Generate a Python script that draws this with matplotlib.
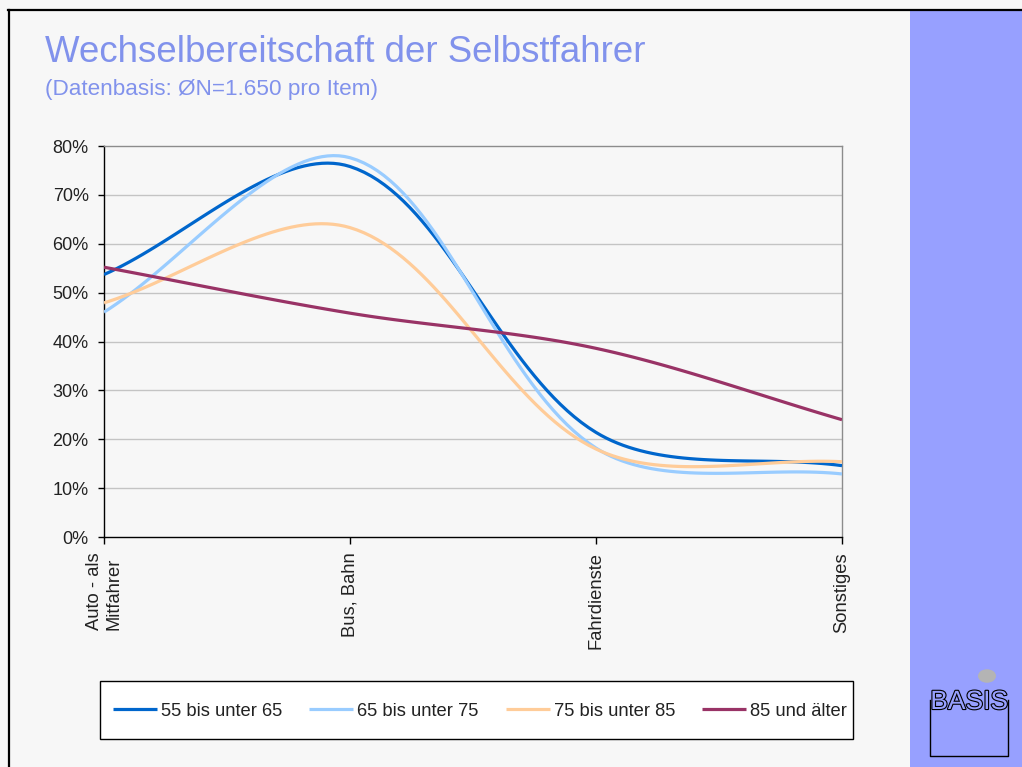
import numpy as np
import matplotlib
matplotlib.use("Agg")
from matplotlib import pyplot as plt
from matplotlib.lines import Line2D
from matplotlib.patches import Rectangle, Circle
import matplotlib.patheffects as pe

plt.rcParams['font.family'] = ['Liberation Sans', 'DejaVu Sans']

# Daten
kategorien = ["Auto - als\nMitfahrer", "Bus, Bahn", "Fahrdienste", "Sonstiges"]
serien = ["55 bis unter 65", "65 bis unter 75", "75 bis unter 85", "85 und älter"]
werte_55 = [53.7, 75.8, 21.4, 14.6]
werte_65 = [46.0, 77.6, 18.2, 12.9]
werte_75 = [47.9, 63.3, 18.0, 15.4]
werte_85 = [55.2, 45.8, 38.6, 24.0]
farben = ["#0066cc", "#99ccff", "#ffcc99", "#993366"]

titel = "Wechselbereitschaft der Selbstfahrer"
untertitel = "(Datenbasis: ØN=1.650 pro Item)"
titel_farbe = "#8192ec"
hintergrund = "#f7f7f7"
panel_farbe = "#97a0ff"


# Glättung wie in Excel (Bezier, Tangente nach Sehnenlänge gewichtet)
def glaetten(px, n=40):
    pts = np.asarray(px, dtype=float)
    m = len(pts)
    out = [pts[0]]
    for i in range(m - 1):
        p0 = pts[i - 1] if i > 0 else pts[i]
        p1 = pts[i]
        p2 = pts[i + 1]
        p3 = pts[i + 2] if i + 2 < m else pts[i + 1]
        d01 = np.linalg.norm(p1 - p0)
        d12 = np.linalg.norm(p2 - p1)
        d23 = np.linalg.norm(p3 - p2)
        c1 = p1 + (p2 - p0) * (d12 / (d01 + d12)) / 3.0
        c2 = p2 - (p3 - p1) * (d12 / (d12 + d23)) / 3.0
        t = np.linspace(0, 1, n)[1:, None]
        seg = ((1 - t) ** 3) * p1 + 3 * ((1 - t) ** 2) * t * c1 \
            + 3 * (1 - t) * t ** 2 * c2 + t ** 3 * p2
        out.extend(seg)
    return np.array(out)


fig = plt.figure(figsize=(10.22, 7.67), dpi=100)
fig.patch.set_facecolor(hintergrund)

# blauer Streifen rechts + Rahmen
fig.add_artist(Rectangle((910 / 1022, 0), 112 / 1022, 1 - 11 / 767,
                         transform=fig.transFigure, facecolor=panel_farbe,
                         edgecolor='none', zorder=0))
fig.add_artist(Line2D([8 / 1022, 1], [1 - 9.5 / 767, 1 - 9.5 / 767],
                      transform=fig.transFigure, color='black', lw=1.6))
fig.add_artist(Line2D([8.5 / 1022, 8.5 / 1022], [0, 1 - 9.5 / 767],
                      transform=fig.transFigure, color='black', lw=1.6))

# Titel
fig.text(45 / 1022, 1 - 62 / 767, titel, fontsize=26.4, color=titel_farbe,
         va='baseline', ha='left')
fig.text(45 / 1022, 1 - 95 / 767, untertitel, fontsize=16.2, color=titel_farbe,
         va='baseline', ha='left')

ax = fig.add_axes([104 / 1022, 1 - 537 / 767, 738 / 1022, 391 / 767])
ax.set_facecolor(hintergrund)
ax.set_xlim(0, len(kategorien) - 1)
ax.set_ylim(0, 80)

x = np.arange(len(kategorien))
fig.canvas.draw()
inv = ax.transData.inverted()
for werte, farbe, name in zip([werte_55, werte_65, werte_75, werte_85], farben, serien):
    pix = ax.transData.transform(np.column_stack([x, werte]))
    kurve = inv.transform(glaetten(pix))
    ax.plot(kurve[:, 0], kurve[:, 1], color=farbe, lw=2.3, label=name,
            solid_capstyle='butt', zorder=3)

# Gitter
for g in range(10, 80, 10):
    ax.axhline(g, color='#c4c4c4', lw=1.0, zorder=1)
ax.spines['top'].set_color('#8c8c8c')
ax.spines['right'].set_color('#8c8c8c')
ax.spines['left'].set_color('black')
ax.spines['bottom'].set_color('black')
for s in ax.spines.values():
    s.set_linewidth(1.0)

ax.set_yticks(range(0, 81, 10))
ax.set_yticklabels([f"{v}%" for v in range(0, 81, 10)])
ax.set_xticks(x)
ax.set_xticklabels(kategorien, rotation=90, va='top', ha='center',
                   multialignment='left')
ax.tick_params(axis='y', direction='out', length=4.5, width=1, pad=6.5,
               labelsize=13, labelcolor='#222222')
ax.tick_params(axis='x', direction='out', length=5, width=1, pad=6,
               labelsize=13.2, labelcolor='#222222')

# Legende (Rahmen separat gezeichnet)
fig.add_artist(Rectangle((100 / 1022, 1 - 739 / 767), 753 / 1022, 58 / 767,
                         transform=fig.transFigure, facecolor='white',
                         edgecolor='black', lw=1.0, zorder=4))
leg = fig.legend(loc='center', ncol=4,
                 bbox_to_anchor=(480 / 1022, 1 - 711 / 767),
                 borderaxespad=0, fontsize=13.2, frameon=False,
                 handlelength=2.4, handletextpad=0.2,
                 borderpad=0.5, columnspacing=1.5)
leg.set_zorder(5)
for t in leg.get_texts():
    t.set_color('#222222')

# Logo BASIS
fig.add_artist(Line2D([930 / 1022, 930 / 1022, 1008 / 1022, 1008 / 1022],
                      [1 - 700 / 767, 1 - 756 / 767, 1 - 756 / 767, 1 - 700 / 767],
                      transform=fig.transFigure, color='black', lw=1.0))
fig.add_artist(Circle((987 / 1022, 1 - 676 / 767), 9 / 1022,
                      transform=fig.transFigure, facecolor='#b4b4b4',
                      edgecolor='none'))
logo = fig.text(969 / 1022, 1 - 709 / 767, "BASIS", fontsize=19, ha='center',
                va='baseline', color=panel_farbe)
logo.set_path_effects([pe.Stroke(linewidth=1.6, foreground='black'),
                       pe.Normal()])

fig.savefig("out.png", dpi=100, facecolor=fig.get_facecolor())
